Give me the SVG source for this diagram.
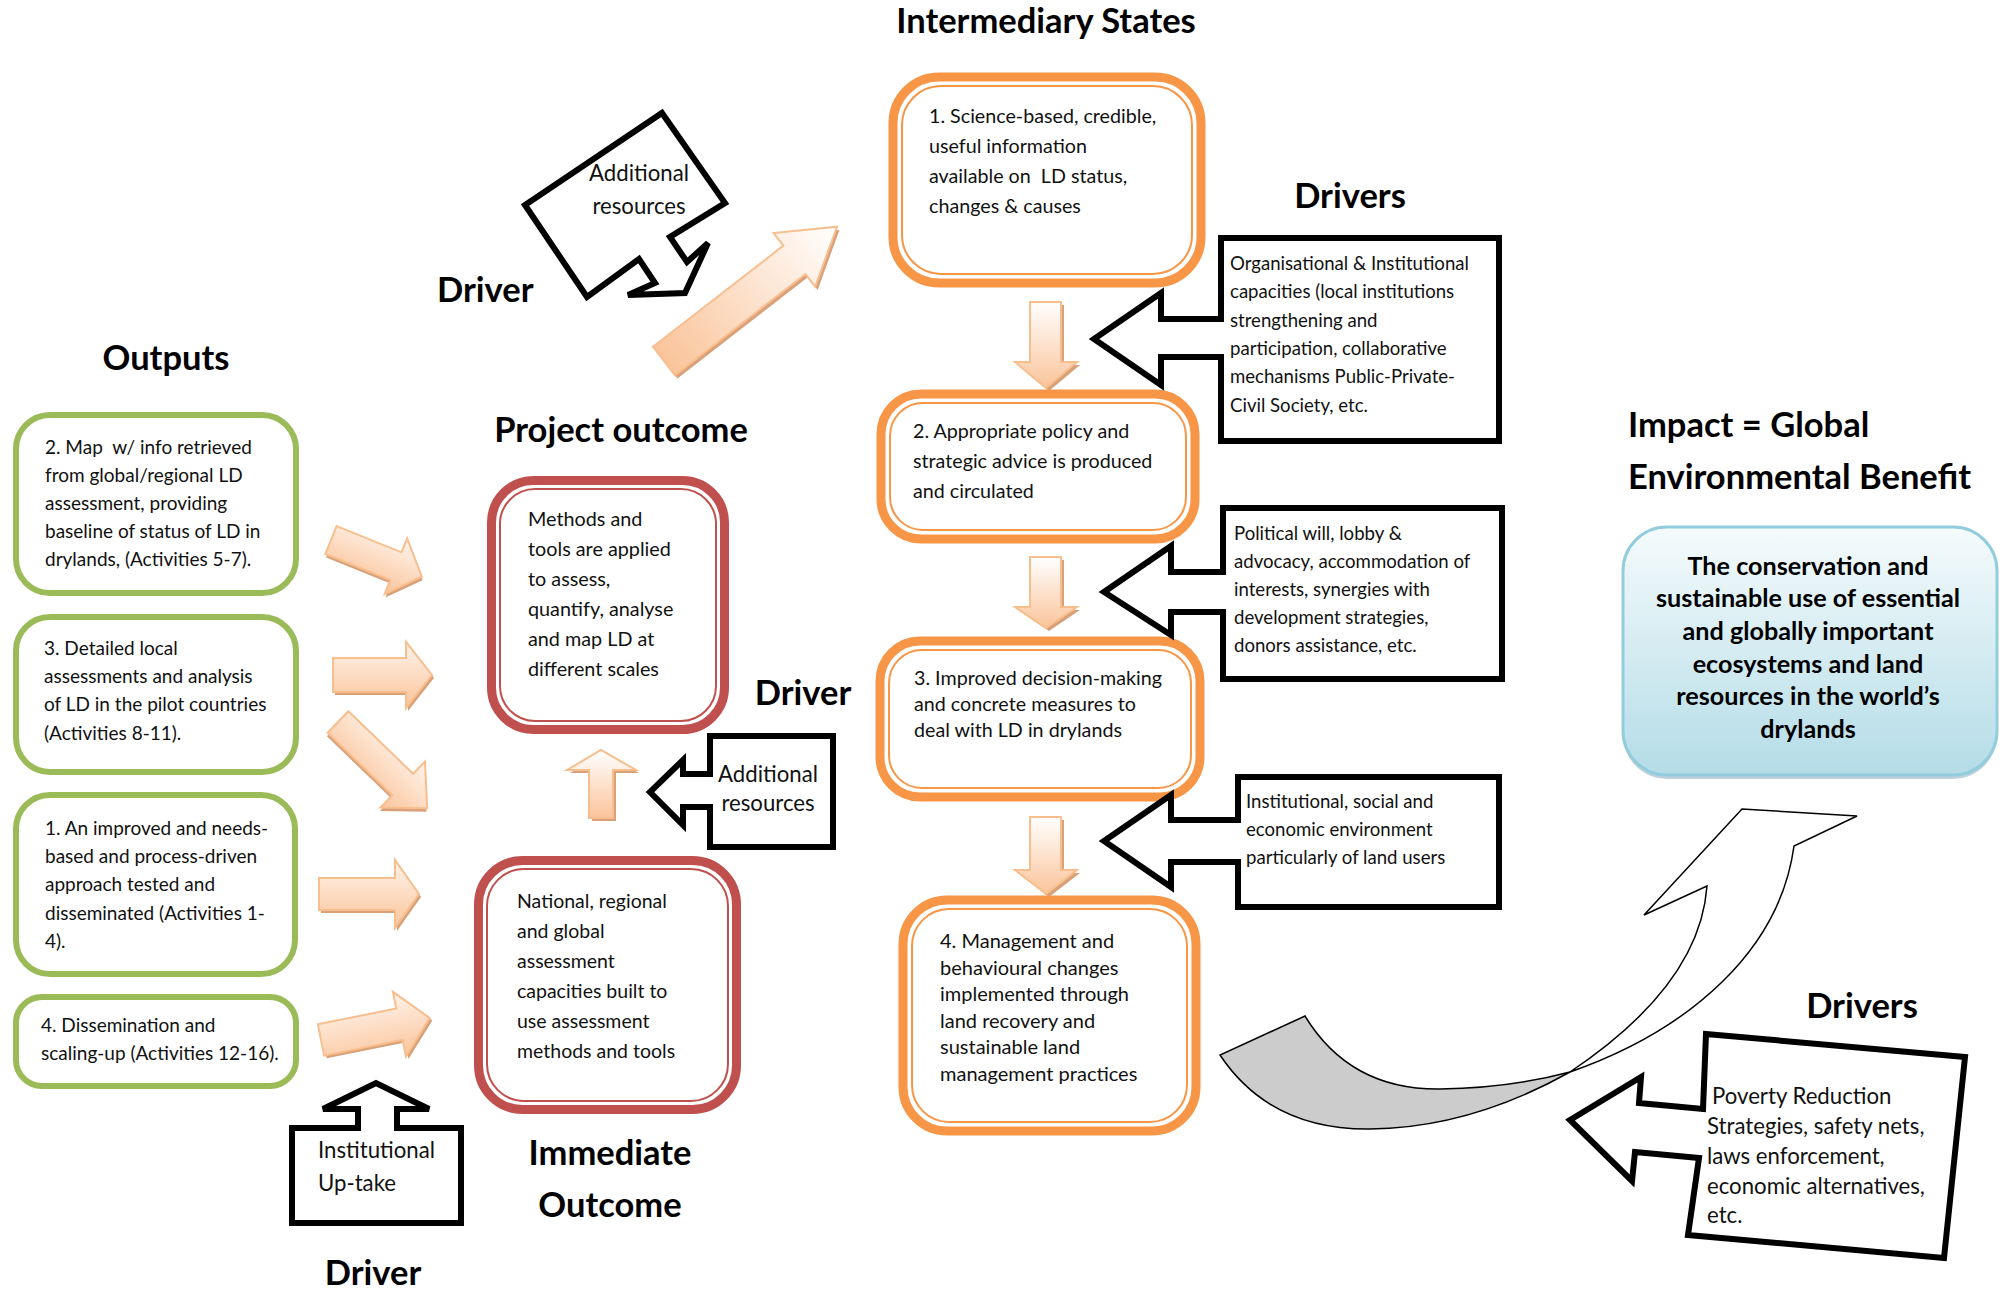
<svg xmlns="http://www.w3.org/2000/svg" width="2005" height="1290" viewBox="0 0 2005 1290">
<defs>
<style>
text{font-family:Lato,"Liberation Sans",sans-serif;fill:#111;white-space:pre}
.tg{font-size:19px}
.tp{font-size:19.8px}
.ti{font-size:19.5px}
.tst{font-size:19.7px}
.t4{font-size:20px}
.td{font-size:18.6px}
.ts{font-size:22.2px}
.h{font-size:34.5px;font-weight:bold;fill:#000}
.hb{font-size:25.2px;font-weight:bold;fill:#000}
.grn{fill:#fff;stroke:#9BBB59;stroke-width:6}
.ro{fill:#fff;stroke:#C0504D;stroke-width:9}
.ri{fill:none;stroke:#C0504D;stroke-width:2}
.oo{fill:#fff;stroke:#F79646;stroke-width:9}
.oi{fill:none;stroke:#F79646;stroke-width:2}
.drv{fill:#fff;stroke:#000;stroke-width:6;stroke-linejoin:miter}
.pk{fill:url(#pv);stroke:#F8BE8E;stroke-width:2;stroke-linejoin:miter}
.pkd{fill:url(#pd);stroke:#F8BE8E;stroke-width:2;stroke-linejoin:miter}
.pkb{fill:url(#pb);stroke:#F8BE8E;stroke-width:2;stroke-linejoin:miter}
.sh{fill:#D9A17A;stroke:none}
.curve{stroke:#000;stroke-width:1.5;stroke-linejoin:miter}
</style>
<linearGradient id="pv" x1="0" y1="0" x2="0" y2="1">
<stop offset="0" stop-color="#FFF4EC"/>
<stop offset="1" stop-color="#FAC49A"/>
</linearGradient>
<linearGradient id="pd" x1="0" y1="0" x2="0" y2="1">
<stop offset="0" stop-color="#FFFFFF"/>
<stop offset="1" stop-color="#FAC49A"/>
</linearGradient>
<linearGradient id="pb" x1="0" y1="0" x2="1" y2="0">
<stop offset="0" stop-color="#FAC49A"/>
<stop offset="1" stop-color="#FFFFFF"/>
</linearGradient>
<linearGradient id="bl" x1="0" y1="0" x2="0" y2="1">
<stop offset="0" stop-color="#F5FBFC"/>
<stop offset="1" stop-color="#B4DCE7"/>
</linearGradient>
</defs>
<rect width="2005" height="1290" fill="#fff"/>

<g id="titles">
<text class="h" x="1046" y="33" text-anchor="middle">Intermediary States</text>
<text class="h" x="166" y="370" text-anchor="middle">Outputs</text>
<text class="h" x="437" y="302">Driver</text>
<text class="h" x="621" y="442" text-anchor="middle">Project outcome</text>
<text class="h" x="1350" y="208" text-anchor="middle">Drivers</text>
<text class="h" x="803" y="705" text-anchor="middle">Driver</text>
<text class="h" x="1628" y="437">Impact = Global</text>
<text class="h" x="1628" y="489">Environmental Benefit</text>
<text class="h" x="1862" y="1018" text-anchor="middle">Drivers</text>
<text class="h" x="610" y="1165" text-anchor="middle">Immediate</text>
<text class="h" x="610" y="1217" text-anchor="middle">Outcome</text>
<text class="h" x="373" y="1285" text-anchor="middle">Driver</text>
</g>

<g id="connectors">
<g transform="translate(331,540) rotate(22)"><path class="sh" transform="translate(2,3)" d="M0,-15 L70,-15 L70,-30 L98,0 L70,30 L70,15 L0,15 Z"/><path class="pk" d="M0,-15 L70,-15 L70,-30 L98,0 L70,30 L70,15 L0,15 Z"/></g>
<g transform="translate(333,675)"><path class="sh" transform="translate(2,3)" d="M0,-17 L73,-17 L73,-33 L99,0 L73,33 L73,17 L0,17 Z"/><path class="pk" d="M0,-17 L73,-17 L73,-33 L99,0 L73,33 L73,17 L0,17 Z"/></g>
<g transform="translate(338,722) rotate(44)"><path class="sh" transform="translate(2,3)" d="M0,-15 L90,-15 L90,-32 L124,0 L90,32 L90,15 L0,15 Z"/><path class="pk" d="M0,-15 L90,-15 L90,-32 L124,0 L90,32 L90,15 L0,15 Z"/></g>
<g transform="translate(319,894)"><path class="sh" transform="translate(2,3)" d="M0,-16 L76,-16 L76,-34 L100,0 L76,34 L76,16 L0,16 Z"/><path class="pk" d="M0,-16 L76,-16 L76,-34 L100,0 L76,34 L76,16 L0,16 Z"/></g>
<g transform="translate(321,1040) rotate(-11.4)"><path class="sh" transform="translate(2,3)" d="M0,-16 L80,-16 L80,-33 L111,0 L80,33 L80,16 L0,16 Z"/><path class="pk" d="M0,-16 L80,-16 L80,-33 L111,0 L80,33 L80,16 L0,16 Z"/></g>
<path class="sh" transform="translate(3,3)" d="M589,818 V770 H567 L601,750 L636,770 H613 V818 Z"/>
<path class="pkd" d="M589,818 V770 H567 L601,750 L636,770 H613 V818 Z"/>
<g transform="translate(664,361) rotate(-37.8)"><path class="sh" transform="translate(0,4)" d="M0,-18 L165,-18 L165,-34 L219,0 L165,34 L165,18 L0,18 Z"/><path class="pkb" d="M0,-18 L165,-18 L165,-34 L219,0 L165,34 L165,18 L0,18 Z"/></g>
<path class="sh" transform="translate(3,3)" d="M1030,302 H1061 V362 H1077 L1046,388 L1015,362 H1030 Z"/>
<path class="pkd" d="M1030,302 H1061 V362 H1077 L1046,388 L1015,362 H1030 Z"/>
<path class="sh" transform="translate(3,3)" d="M1030,557 H1061 V607 H1077 L1046,628 L1015,607 H1030 Z"/>
<path class="pkd" d="M1030,557 H1061 V607 H1077 L1046,628 L1015,607 H1030 Z"/>
<path class="sh" transform="translate(3,3)" d="M1030,817 H1061 V870 H1077 L1046,894 L1015,870 H1030 Z"/>
<path class="pkd" d="M1030,817 H1061 V870 H1077 L1046,894 L1015,870 H1030 Z"/>
<path class="curve" fill="#CCCCCC" d="M1220,1055 Q1270,1130 1370,1129 Q1470,1128 1570,1072 Q1510,1088 1440,1089 Q1350,1090 1305,1016 Z"/>
<path class="curve" fill="#fff" d="M1570,1072 Q1700,985 1707,886 L1644,915 L1742,809 L1857,816 L1794,846 C1780,950 1690,1030 1570,1072 Z"/>
</g>

<g id="out2">
<rect class="grn" x="16" y="415" width="280" height="178" rx="34"/>
<text class="tg" x="45" y="454">2. Map  w/ info retrieved</text>
<text class="tg" x="45" y="482">from global/regional LD</text>
<text class="tg" x="45" y="510">assessment, providing</text>
<text class="tg" x="45" y="538">baseline of status of LD in</text>
<text class="tg" x="45" y="566">drylands, (Activities 5-7).</text>
</g>
<g id="out3">
<rect class="grn" x="16" y="617" width="280" height="155" rx="34"/>
<text class="tg" x="44" y="655">3. Detailed local</text>
<text class="tg" x="44" y="683">assessments and analysis</text>
<text class="tg" x="44" y="711">of LD in the pilot countries</text>
<text class="tg" x="44" y="740">(Activities 8-11).</text>
</g>
<g id="out1">
<rect class="grn" x="16" y="795" width="279" height="179" rx="34"/>
<text class="tg" x="45" y="835">1. An improved and needs-</text>
<text class="tg" x="45" y="863">based and process-driven</text>
<text class="tg" x="45" y="891">approach tested and</text>
<text class="tg" x="45" y="920">disseminated (Activities 1-</text>
<text class="tg" x="45" y="948">4).</text>
</g>
<g id="out4">
<rect class="grn" x="16" y="997" width="280" height="89" rx="26"/>
<text class="tg" x="41" y="1032">4. Dissemination and</text>
<text class="tg" x="41" y="1060">scaling-up (Activities 12-16).</text>
</g>

<g id="project-outcome">
<rect class="ro" x="491.5" y="480.5" width="233" height="249" rx="42"/>
<rect class="ri" x="500" y="489" width="216" height="232" rx="35"/>
<text class="tp" x="528" y="526">Methods and</text>
<text class="tp" x="528" y="556">tools are applied</text>
<text class="tp" x="528" y="586">to assess,</text>
<text class="tp" x="528" y="616">quantify, analyse</text>
<text class="tp" x="528" y="646">and map LD at</text>
<text class="tp" x="528" y="676">different scales</text>
</g>
<g id="immediate-outcome">
<rect class="ro" x="478.5" y="860.5" width="258" height="249" rx="44"/>
<rect class="ri" x="487" y="869" width="241" height="232" rx="37"/>
<text class="ti" x="517" y="908">National, regional</text>
<text class="ti" x="517" y="938">and global</text>
<text class="ti" x="517" y="968">assessment</text>
<text class="ti" x="517" y="998">capacities built to</text>
<text class="ti" x="517" y="1028">use assessment</text>
<text class="ti" x="517" y="1058">methods and tools</text>
</g>

<g id="driver-additional-top">
<path class="drv" d="M662,113 L725,203 L670,237 L687,262 L708,243 L685,293 L628,295 L655,283 L639,259 L587,297 L525,205 Z"/>
<text class="ts" x="639" y="181" text-anchor="middle">Additional</text>
<text class="ts" x="639" y="214" text-anchor="middle">resources</text>
</g>
<g id="driver-additional-mid">
<path class="drv" d="M833,736 L833,847 L710,847 L710,807 L683,807 L683,825 L650,792 L683,760 L683,774 L710,774 L710,736 Z"/>
<text class="ts" x="768" y="782" text-anchor="middle">Additional</text>
<text class="ts" x="768" y="811" text-anchor="middle">resources</text>
</g>
<g id="driver-uptake">
<path class="drv" d="M292,1128 L358,1128 L358,1109 L323,1109 L376,1083 L429,1109 L397,1109 L397,1128 L461,1128 L461,1223 L292,1223 Z"/>
<text class="ts" x="318" y="1158">Institutional</text>
<text class="ts" x="318" y="1191">Up-take</text>
</g>

<g id="state1">
<rect class="oo" x="893" y="77" width="308" height="206" rx="46"/>
<rect class="oi" x="902" y="86" width="290" height="188" rx="39"/>
<text class="tst" x="929" y="123">1. Science-based, credible,</text>
<text class="tst" x="929" y="153">useful information</text>
<text class="tst" x="929" y="183">available on  LD status,</text>
<text class="tst" x="929" y="213">changes &amp; causes</text>
</g>
<g id="state2">
<rect class="oo" x="881" y="394" width="314" height="145" rx="40"/>
<rect class="oi" x="890" y="403" width="296" height="127" rx="33"/>
<text class="tst" x="913" y="438">2. Appropriate policy and</text>
<text class="tst" x="913" y="468">strategic advice is produced</text>
<text class="tst" x="913" y="498">and circulated</text>
</g>
<g id="state3">
<rect class="oo" x="880" y="641" width="320" height="156" rx="40"/>
<rect class="oi" x="889" y="650" width="302" height="138" rx="33"/>
<text class="tst" x="914" y="685">3. Improved decision-making</text>
<text class="tst" x="914" y="711">and concrete measures to</text>
<text class="tst" x="914" y="737">deal with LD in drylands</text>
</g>
<g id="state4">
<rect class="oo" x="903" y="900" width="293" height="231" rx="44"/>
<rect class="oi" x="912" y="909" width="275" height="213" rx="37"/>
<text class="t4" x="940" y="948">4. Management and</text>
<text class="t4" x="940" y="975">behavioural changes</text>
<text class="t4" x="940" y="1001">implemented through</text>
<text class="t4" x="940" y="1028">land recovery and</text>
<text class="t4" x="940" y="1054">sustainable land</text>
<text class="t4" x="940" y="1081">management practices</text>
</g>

<g id="driver-capacities">
<path class="drv" d="M1221,238 L1499,238 L1499,441 L1221,441 L1221,357 L1161,357 L1161,385 L1094,339 L1161,293 L1161,319 L1221,319 Z"/>
<text class="td" x="1230" y="270">Organisational &amp; Institutional</text>
<text class="td" x="1230" y="298">capacities (local institutions</text>
<text class="td" x="1230" y="327">strengthening and</text>
<text class="td" x="1230" y="355">participation, collaborative</text>
<text class="td" x="1230" y="383">mechanisms Public-Private-</text>
<text class="td" x="1230" y="412">Civil Society, etc.</text>
</g>
<g id="driver-political">
<path class="drv" d="M1223,508 L1502,508 L1502,679 L1223,679 L1223,612 L1171,612 L1171,635 L1104,592 L1171,546 L1171,572 L1223,572 Z"/>
<text class="td" x="1234" y="540">Political will, lobby &amp;</text>
<text class="td" x="1234" y="568">advocacy, accommodation of</text>
<text class="td" x="1234" y="596">interests, synergies with</text>
<text class="td" x="1234" y="624">development strategies,</text>
<text class="td" x="1234" y="652">donors assistance, etc.</text>
</g>
<g id="driver-environment">
<path class="drv" d="M1238,777 L1499,777 L1499,907 L1238,907 L1238,862 L1171,862 L1171,887 L1104,841 L1171,795 L1171,820 L1238,820 Z"/>
<text class="td" x="1246" y="808">Institutional, social and</text>
<text class="td" x="1246" y="836">economic environment</text>
<text class="td" x="1246" y="864">particularly of land users</text>
</g>

<g id="impact">
<rect x="1623" y="531" width="374" height="248" rx="44" fill="#8FB3C0" opacity="0.6"/>
<rect x="1623" y="527" width="374" height="248" rx="44" fill="url(#bl)" stroke="#93CDDD" stroke-width="3"/>
<text class="hb" x="1808" y="575" text-anchor="middle">The conservation and</text>
<text class="hb" x="1808" y="607" text-anchor="middle">sustainable use of essential</text>
<text class="hb" x="1808" y="640" text-anchor="middle">and globally important</text>
<text class="hb" x="1808" y="673" text-anchor="middle">ecosystems and land</text>
<text class="hb" x="1808" y="705" text-anchor="middle">resources in the world’s</text>
<text class="hb" x="1808" y="738" text-anchor="middle">drylands</text>
</g>

<g id="driver-poverty">
<path class="drv" d="M1706,1034 L1965,1057 L1944,1258 L1688,1235 L1699,1158 L1635,1152 L1632,1181 L1570,1120 L1641,1077 L1639,1103 L1703,1109 Z"/>
<text class="ts" x="1712" y="1104">Poverty Reduction</text>
<text class="ts" x="1707" y="1134">Strategies, safety nets,</text>
<text class="ts" x="1707" y="1164">laws enforcement,</text>
<text class="ts" x="1707" y="1194">economic alternatives,</text>
<text class="ts" x="1707" y="1223">etc.</text>
</g>
</svg>
